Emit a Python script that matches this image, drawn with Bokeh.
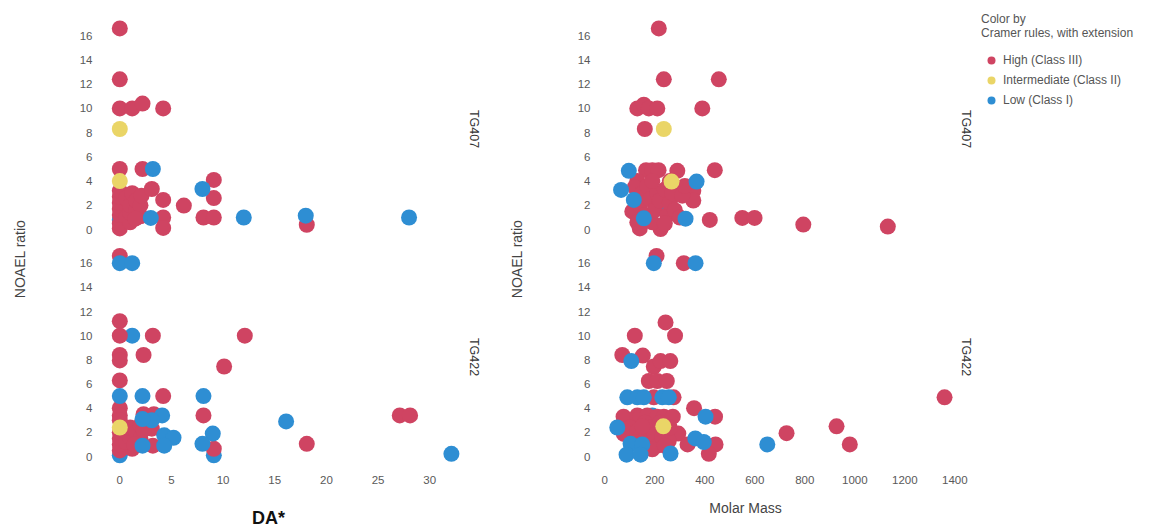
import math
from bokeh.plotting import figure
from bokeh.models import Range1d, FixedTicker, Label, Legend, LegendItem, ColumnDataSource, Title
from bokeh.layouts import row, column
from bokeh.transform import factor_cmap
from bokeh.embed import file_html
from bokeh.resources import INLINE

FONT = "Liberation Sans"

# ---------------- data ----------------
CLASSES = ["High (Class III)", "Intermediate (Class II)", "Low (Class I)"]
CODES = {"H": "High (Class III)", "I": "Intermediate (Class II)", "L": "Low (Class I)"}
COLORS = ["#CF4462", "#EAD567", "#2E8ED3"]

Y_TICKS = [0, 2, 4, 6, 8, 10, 12, 14, 16]
DA_TICKS = [0, 5, 10, 15, 20, 25, 30]
MM_TICKS = [0, 200, 400, 600, 800, 1000, 1200, 1400]

# TG407 vs DA*
tg407_da_x = [0,
              0, 0, 0, 1.2, 2.2, 4.2, 0, 2.2,
              0, 0, 0, 0, 0, 0, 0, 0.6, 0.6, 1, 1, 1, 1.2, 1.6, 1.6, 2.0, 2.0, 2.1, 1.5,
              3.1, 4.2, 6.2, 9.1, 9.1, 8.1, 9.1, 18.1, 4.2, 4.2,
              3.2, 8.0, 12, 18, 28, 3.0,
              0, 0]
tg407_da_y = [0.8,
              16.6, 12.4, 10, 10, 10.4, 10, 5, 5,
              0.1, 0.5, 1.2, 1.7, 2.2, 2.7, 3.2, 1.0, 2.6, 0.6, 1.4, 2.0, 3.0, 1.6, 2.4, 1.1, 2.0, 2.8, 0.9,
              3.35, 2.45, 1.98, 4.1, 2.6, 1.0, 1.0, 0.4, 1.0, 0.14,
              5.0, 3.35, 1.0, 1.15, 1.0, 0.96,
              8.3, 4.0]
tg407_da_c = list("L" "HHHHHHHH" "HHHHHHHHHHHHHHHHHHH" "HHHHHHHHHH" "LLLLLL" "II")

# TG422 vs DA*
tg422_da_x = [0, 9.1, 1.2,
              0, 0, 0, 3.2, 12.1, 0, 0, 2.3, 10.1, 0, 4.2,
              0, 0, 8.1, 27.1, 28.1, 18.1, 2.3, 3.3, 3.1, 3.2, 1.2, 0, 9.1,
              0, 0, 0, 0, 0.6, 0.6, 1, 1, 1.6, 2, 2, 2.3, 1.4,
              0, 1.2, 0, 2.2, 8.1, 16.1, 32.1, 9.0, 8.0, 4.1, 3.1, 2.2, 4.3, 5.2, 2.2, 4.3,
              0]
tg422_da_y = [0.1, 0.1, 10,
              16.6, 11.2, 10, 10, 10, 8.4, 7.95, 8.4, 7.45, 6.3, 5,
              4.0, 3.4, 3.4, 3.4, 3.4, 1.05, 3.5, 3.5, 2.3, 0.9, 0.64, 0.5, 0.64,
              1.0, 1.5, 2.0, 3.0, 1.2, 2.0, 1.6, 2.4, 2.0, 2.6, 1.5, 2.2, 1.0,
              16, 16, 5, 5, 5, 2.9, 0.22, 1.9, 1.05, 3.4, 3.0, 3.1, 1.75, 1.55, 0.9, 0.9,
              2.4]
tg422_da_c = list("LLL" "HHHHHHHHHHH" "HHHHHHHHHHHHH" "HHHHHHHHHHHHH" "LLLLLLLLLLLLLLLL" "I")

# TG407 vs Molar Mass
tg407_mm_x = [230,
              216, 236, 456, 130, 156, 176, 210, 390, 160,
              165, 190, 215, 290, 440, 130, 354, 354, 420, 550, 599, 794, 1132, 223, 140,
              110, 120, 140, 150, 160, 170, 180, 190, 200, 210, 220, 240, 250, 260, 270, 280, 300, 310, 320, 130, 240, 190, 260,
              96, 367, 65, 116, 156, 323,
              267, 236]
tg407_mm_y = [1.98,
              16.6, 12.4, 12.4, 10, 10.3, 10, 10, 10, 8.3,
              4.9, 4.9, 4.9, 4.85, 4.9, 4.0, 3.2, 2.4, 0.8, 0.96, 0.96, 0.41, 0.25, 0.05, 0.1,
              1.5, 3.5, 2.0, 3.0, 1.2, 3.6, 2.5, 0.6, 1.6, 3.0, 2.4, 3.3, 1.2, 2.2, 3.0, 1.6, 1.0, 2.8, 3.6, 0.6, 0.5, 4.0, 4.0,
              4.85, 3.96, 3.27, 2.45, 0.93, 0.9,
              3.96, 8.3]
tg407_mm_c = list("L" "HHHHHHHHH" "HHHHHHHHHHHHHHH" "HHHHHHHHHHHHHHHHHHHHHHH" "LLLLLL" "II")

# TG422 vs Molar Mass
tg422_mm_x = [190,
              207, 316, 243, 120, 281, 70, 152, 196, 223, 262, 176, 210, 248,
              196, 275, 357, 441, 75, 130, 143, 170, 210, 236, 272, 294, 727, 927, 980, 1359, 331, 443, 416,
              76, 100, 130, 143, 160, 176, 183, 200, 210, 220, 230, 256, 260, 120, 190, 240, 150,
              196, 363, 106, 90, 130, 156, 230, 256, 403, 50, 650, 362, 396, 103, 150, 87, 143, 263,
              234]
tg422_mm_y = [3.4,
              16.6, 16, 11.1, 10, 10, 8.4, 8.35, 7.45, 7.9, 7.9, 6.25, 6.25, 6.25,
              4.9, 4.9, 4.0, 3.3, 3.3, 3.4, 3.3, 3.4, 3.3, 3.3, 3.3, 1.9, 1.93, 2.5, 1.0, 4.9, 1.0, 1.0, 0.22,
              1.87, 2.4, 2.1, 1.6, 2.8, 1.2, 2.4, 1.8, 0.9, 2.8, 1.6, 1.3, 2.4, 1.2, 0.6, 0.9, 2.5,
              16, 16, 7.9, 4.9, 4.9, 4.9, 4.9, 4.9, 3.3, 2.4, 1.0, 1.5, 1.2, 1.05, 1.0, 0.15, 0.15, 0.25,
              2.5]
tg422_mm_c = list("L" "HHHHHHHHHHHHH" "HHHHHHHHHHHHHHHHHHH" "HHHHHHHHHHHHHHHHH" "LLLLLLLLLLLLLLLLLL" "I")

# ---------------- layout constants ----------------
TOP_H, BOT_H, STRIP_H = 243, 253, 32
DA_RANGE = (-1.384, 32.98)
MM_RANGE = (-29.2, 1410.8)
TOP_Y = (-0.9, 17.5)
BOT_Y = (-0.91, 17.38)


def style_axis(ax, standoff):
    ax.axis_line_color = None
    ax.major_tick_line_color = None
    ax.minor_tick_line_color = None
    ax.major_tick_out = 0
    ax.major_tick_in = 0
    ax.major_label_standoff = standoff
    ax.major_label_text_font = FONT
    ax.major_label_text_font_size = "11.5px"
    ax.major_label_text_color = "#595959"


def panel(xs, ys, cs, xr, yr, width, height, borders, show_x, xticks, ystand, facet, fstand):
    assert len(xs) == len(ys) == len(cs)
    l, r, t, b = borders
    p = figure(width=width, height=height,
               x_range=Range1d(*xr), y_range=Range1d(*yr),
               x_axis_location="below" if show_x else None,
               min_border_left=l, min_border_right=r, min_border_top=t, min_border_bottom=b,
               output_backend="svg", toolbar_location=None)
    p.grid.visible = False
    p.outline_line_color = None
    p.background_fill_color = "white"
    p.border_fill_color = "white"
    style_axis(p.yaxis[0], ystand)
    p.yaxis[0].ticker = FixedTicker(ticks=Y_TICKS)
    if show_x:
        style_axis(p.xaxis[0], 8)
        p.xaxis[0].ticker = FixedTicker(ticks=xticks)
    names = [CODES[c] for c in cs]
    src = ColumnDataSource(dict(x=xs, y=ys, cramer=names))
    p.scatter("x", "y", source=src, size=16,
              fill_color=factor_cmap("cramer", COLORS, CLASSES), line_color=None)
    p.add_layout(Title(text=facet, align="center", standoff=fstand, text_font=FONT,
                       text_font_size="12.5px", text_font_style="normal",
                       text_color="#333333"), "right")
    return p, src, names


tl, _, _ = panel(tg407_da_x, tg407_da_y, tg407_da_c, DA_RANGE, TOP_Y, 460, TOP_H,
                 (75, 30, 17, 3), False, DA_TICKS, 13, "TG407", 12)
bl, _, _ = panel(tg422_da_x, tg422_da_y, tg422_da_c, DA_RANGE, BOT_Y, 460, BOT_H,
                 (75, 30, 3, 29), True, DA_TICKS, 13, "TG422", 12)
tr, tr_src, tr_names = panel(tg407_mm_x, tg407_mm_y, tg407_mm_c, MM_RANGE, TOP_Y, 448, TOP_H,
                             (67, 21, 17, 3), False, MM_TICKS, 7, "TG407", 2)
br, _, _ = panel(tg422_mm_x, tg422_mm_y, tg422_mm_c, MM_RANGE, BOT_Y, 448, BOT_H,
                 (67, 21, 3, 29), True, MM_TICKS, 7, "TG422", 2)

# legend figure: shares the TG407 / Molar Mass data source; its view holds no data points
LEG_W = 1152 - 30 - 460 - 40 - 448
leg = figure(width=LEG_W, height=TOP_H, x_range=Range1d(0, 1), y_range=Range1d(0, 1),
             x_axis_location=None, y_axis_location=None,
             min_border_left=3, min_border_top=12, min_border_right=0, min_border_bottom=0,
             output_backend="svg", toolbar_location=None)
leg.grid.visible = False
leg.outline_line_color = None
leg_r = leg.scatter("x", "y", source=tr_src, size=16,
                    fill_color=factor_cmap("cramer", COLORS, CLASSES), line_color=None)
items = [LegendItem(label=c, renderers=[leg_r], index=tr_names.index(c)) for c in CLASSES]
legend = Legend(items=items, location="top_left",
                title="Color by\nCramer rules, with extension",
                title_text_font=FONT, title_text_font_size="12px", title_text_color="#555555",
                title_text_font_style="normal", title_standoff=10,
                label_text_font=FONT, label_text_font_size="12px", label_text_color="#555555",
                glyph_width=20, glyph_height=20, label_standoff=2, spacing=0,
                padding=0, margin=0, border_line_color=None, background_fill_alpha=0)
leg.add_layout(legend, "center")


def text_strip(width, height, labels):
    """A blank figure whose ranges map 1:1 to its pixels, holding free texts."""
    p = figure(width=width, height=height, x_range=Range1d(0, width), y_range=Range1d(height, 0),
               x_axis_location=None, y_axis_location=None, min_border=0,
               output_backend="svg", toolbar_location=None)
    p.grid.visible = False
    p.outline_line_color = None
    for (x, y, text, angle, size, style, color) in labels:
        p.add_layout(Label(x=x, y=y, text=text, angle=angle, text_align="center",
                           text_baseline="middle", text_font=FONT, text_font_size=size,
                           text_font_style=style, text_color=color))
    return p


ROW_H = TOP_H + BOT_H
sl = text_strip(30, ROW_H, [(19, 252.5, "NOAEL ratio", math.pi / 2, "14px", "normal", "#444444")])
sm = text_strip(40, ROW_H, [(26, 252.5, "NOAEL ratio", math.pi / 2, "14px", "normal", "#444444")])
bottom = text_strip(1152, STRIP_H, [(268, 21, "DA*", 0, "18px", "bold", "#111111"),
                                     (745, 11, "Molar Mass", 0, "14px", "normal", "#444444")])

layout = column(row(sl, column(tl, bl), sm, column(tr, br), leg), bottom)

open("out.html", "w").write(file_html(layout, INLINE))
